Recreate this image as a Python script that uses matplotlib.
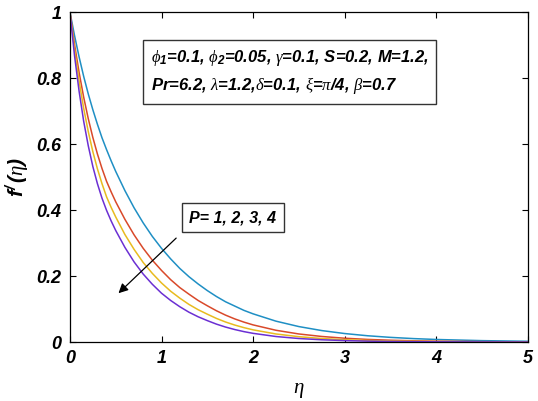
import matplotlib
matplotlib.use("Agg")
import matplotlib.pyplot as plt

plt.rcParams['font.family'] = ['Liberation Sans', 'DejaVu Sans']
plt.rcParams['mathtext.fontset'] = 'custom'
plt.rcParams['mathtext.rm'] = 'Liberation Sans:bold:italic'
plt.rcParams['mathtext.bf'] = 'Liberation Sans:bold:italic'
plt.rcParams['mathtext.it'] = 'Liberation Serif:italic'

# eta grid and f'(eta) for P = 1, 2, 3, 4
eta = [0, 0.05, 0.1, 0.15, 0.2, 0.25, 0.3, 0.35, 0.4, 0.45, 0.5,
       0.6, 0.7, 0.8, 0.9, 1.0, 1.1, 1.2, 1.3, 1.4, 1.5,
       1.6, 1.7, 1.8, 1.9, 2.0, 2.25, 2.5, 2.75, 3.0, 3.25,
       3.5, 3.75, 4.0, 4.5, 5.0]
f_p1 = [1, 0.929, 0.864, 0.805, 0.752, 0.704, 0.660, 0.619, 0.583, 0.549, 0.517,
        0.459, 0.407, 0.361, 0.320, 0.284, 0.252, 0.223, 0.198, 0.176, 0.156,
        0.138, 0.122, 0.109, 0.096, 0.0855, 0.0633, 0.0469, 0.0348, 0.0258, 0.0191,
        0.0142, 0.0105, 0.0078, 0.0043, 0.0023]
f_p2 = [1, 0.902, 0.817, 0.742, 0.677, 0.620, 0.570, 0.526, 0.487, 0.455, 0.425,
        0.372, 0.325, 0.284, 0.248, 0.217, 0.189, 0.165, 0.145, 0.126, 0.110,
        0.0948, 0.0815, 0.0701, 0.0604, 0.0520, 0.0357, 0.0245, 0.0169, 0.0116, 0.0080,
        0.0055, 0.0038, 0.0026, 0.0012, 0.0006]
f_p3 = [1, 0.887, 0.791, 0.708, 0.638, 0.577, 0.525, 0.480, 0.440, 0.408, 0.379,
        0.326, 0.281, 0.241, 0.208, 0.179, 0.154, 0.133, 0.114, 0.098, 0.0845,
        0.0716, 0.0607, 0.0515, 0.0437, 0.0370, 0.0245, 0.0162, 0.0107, 0.0071, 0.0047,
        0.0031, 0.0020, 0.0013, 0.0006, 0.0003]
f_p4 = [1, 0.868, 0.760, 0.669, 0.595, 0.532, 0.480, 0.436, 0.399, 0.367, 0.338,
        0.287, 0.243, 0.206, 0.175, 0.148, 0.126, 0.107, 0.0904, 0.0766, 0.0650,
        0.0543, 0.0454, 0.0379, 0.0316, 0.0264, 0.0168, 0.0107, 0.0069, 0.0044, 0.0028,
        0.0018, 0.0011, 0.0007, 0.0003, 0.0001]

curves = [f_p1, f_p2, f_p3, f_p4]
colors = ['#1f8fc4', '#d9492a', '#e8bb1f', '#6b2fd3']

fig = plt.figure(figsize=(5.38, 4.01), dpi=100)
ax = fig.add_axes([0.130, 0.147, 0.851, 0.823])

for vals, c in zip(curves, colors):
    ax.plot(eta, vals, color=c, lw=1.1)

ax.set_xlim(0, 5)
ax.set_ylim(0, 1)
ax.set_xticks([0, 1, 2, 3, 4, 5])
ax.set_yticks([0, 0.2, 0.4, 0.6, 0.8, 1])
ax.set_xticklabels(['0', '1', '2', '3', '4', '5'])
ax.set_yticklabels(['0', '0.2', '0.4', '0.6', '0.8', '1'])
ax.tick_params(direction='in', top=True, right=True, length=4, width=0.8,
               labelsize=13, pad=6)
for lab in ax.get_xticklabels() + ax.get_yticklabels():
    lab.set_fontweight('bold')
    lab.set_fontstyle('italic')
for s in ax.spines.values():
    s.set_linewidth(0.9)

ax.set_xlabel(r'$\eta$', fontsize=15, labelpad=10)
ax.set_ylabel(r"$\mathbf{f}^{/}\,\mathit{(}\eta\mathit{)}$", fontsize=15, labelpad=4)

params = (r'$\phi_{1}$=0.1, $\phi_{2}$=0.05, $\gamma$=0.1, S=0.2, M=1.2,' + '\n'
          + r'Pr=6.2, $\lambda$=1.2,$\delta$=0.1, $\xi$=$\pi$/4, $\beta$=0.7')
ax.text(2.40, 0.818, params, ha='center', va='center', multialignment='left',
        fontsize=12, fontweight='bold', fontstyle='italic', linespacing=1.5,
        bbox=dict(boxstyle='square,pad=0.45', fc='white', ec='#333333', lw=1.0))

ax.text(1.78, 0.377, 'P= 1, 2, 3, 4', ha='center', va='center', fontsize=11.5,
        fontweight='bold', fontstyle='italic',
        bbox=dict(boxstyle='square,pad=0.45', fc='white', ec='#333333', lw=1.0))

ax.annotate('', xy=(0.53, 0.148), xytext=(1.16, 0.315),
            arrowprops=dict(arrowstyle='-|>', color='black', lw=0.9,
                            mutation_scale=14, shrinkA=0, shrinkB=0))

fig.savefig('out.png', dpi=100)
